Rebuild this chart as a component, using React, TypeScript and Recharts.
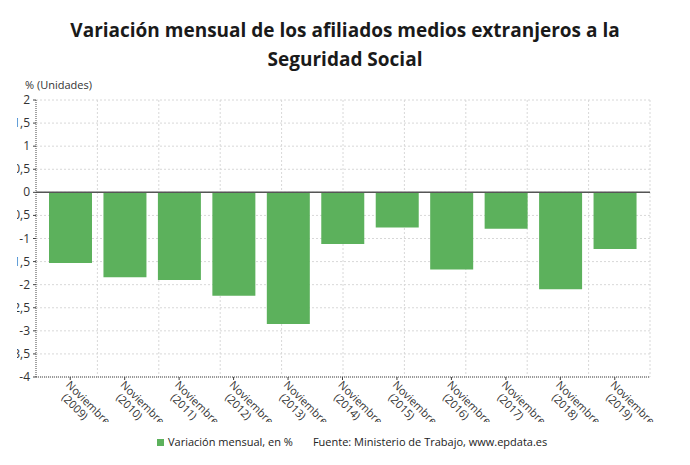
import { BarChart, Bar, XAxis, YAxis, CartesianGrid, ReferenceLine } from 'recharts'

const years = ['2009', '2010', '2011', '2012', '2013', '2014', '2015', '2016', '2017', '2018', '2019']
const values = [-1.53, -1.84, -1.9, -2.24, -2.85, -1.12, -0.76, -1.67, -0.79, -2.1, -1.23]
const yTicks = [-4, -3.5, -3, -2.5, -2, -1.5, -1, -0.5, 0, 0.5, 1, 1.5, 2]

const GREEN = '#5cb15c'
const FONT = '"Open Sans", sans-serif'

const data = years.map((y, i) => ({ name: `Noviembre (${y})`, year: y, value: values[i] }))

function XTick(props: any) {
  const { x, y, payload, index } = props
  const year = payload.value.replace('Noviembre ', '')
  const id = `xclip-${index}`
  return (
    <g>
      <defs>
        <clipPath id={id}>
          <rect x={x - 40} y={y - 5} width={120} height={422 - y + 5} />
        </clipPath>
      </defs>
      <g clipPath={`url(#${id})`}>
        <g transform={`translate(${x},${y}) rotate(45)`}>
          <text fill="#333" fontSize={11} fontFamily={FONT}>
            <tspan x={-1} y={6}>Noviembre</tspan>
            <tspan x={5} y={18}>{year}</tspan>
          </text>
        </g>
      </g>
    </g>
  )
}

function YTick(props: any) {
  const { x, y, payload, index } = props
  const id = `yclip-${index}`
  const label = String(payload.value).replace('.', ',')
  return (
    <g>
      <defs>
        <clipPath id={id}>
          <rect x={17} y={y - 10} width={40} height={20} />
        </clipPath>
      </defs>
      <text x={x} y={y} dy={4} textAnchor="end" fill="#333" fontSize={12} fontFamily={FONT} clipPath={`url(#${id})`}>
        {label}
      </text>
    </g>
  )
}

export default function App() {
  return (
    <div style={{ position: 'relative', width: 690, height: 465, margin: -8, background: '#fff', fontFamily: FONT }}>
      <div
        style={{
          position: 'absolute',
          top: 16,
          left: 0,
          width: 690,
          textAlign: 'center',
          fontWeight: 700,
          fontSize: 19,
          lineHeight: '29px',
          color: '#1a1a1a'
        }}
      >
        Variación mensual de los afiliados medios extranjeros a la
        <br />
        Seguridad Social
      </div>
      <div style={{ position: 'absolute', top: 78, left: 25, fontSize: 11, lineHeight: '14px', color: '#333' }}>
        % (Unidades)
      </div>
      <div style={{ position: 'absolute', top: 0, left: 0 }}>
        <BarChart width={690} height={465} data={data} margin={{ top: 100, right: 40, bottom: 58, left: 0 }}>
          <CartesianGrid
            stroke="#d8d8d8"
            strokeDasharray="2 2"
            verticalCoordinatesGenerator={({ offset }: any) =>
              Array.from({ length: 10 }, (_, i) => offset.left + (offset.width * (i + 1)) / 10)
            }
          />
          <YAxis
            width={36}
            domain={[-4, 2]}
            ticks={yTicks}
            interval={0}
            tickSize={3}
            tickMargin={3}
            stroke="#444"
            axisLine={{ stroke: '#444', strokeDasharray: '1 1' }}
            tick={<YTick />}
          />
          <XAxis
            dataKey="name"
            height={30}
            interval={0}
            padding={{ left: 7, right: 8 }}
            tickSize={3}
            stroke="#444"
            axisLine={{ stroke: '#444', strokeDasharray: '1 1' }}
            tick={<XTick />}
          />
          <ReferenceLine y={0} stroke="#555" strokeWidth={1.5} />
          <Bar dataKey="value" fill={GREEN} barSize={43} isAnimationActive={false} />
        </BarChart>
      </div>
      <div
        style={{
          position: 'absolute',
          top: 435,
          left: 157,
          fontSize: 11,
          lineHeight: '14px',
          color: '#222',
          display: 'flex',
          alignItems: 'center',
          whiteSpace: 'nowrap'
        }}
      >
        <span style={{ display: 'inline-block', width: 7, height: 7, background: GREEN, marginRight: 4 }} />
        <span>Variación mensual, en %</span>
        <span style={{ marginLeft: 20 }}>Fuente: Ministerio de Trabajo, www.epdata.es</span>
      </div>
    </div>
  )
}
